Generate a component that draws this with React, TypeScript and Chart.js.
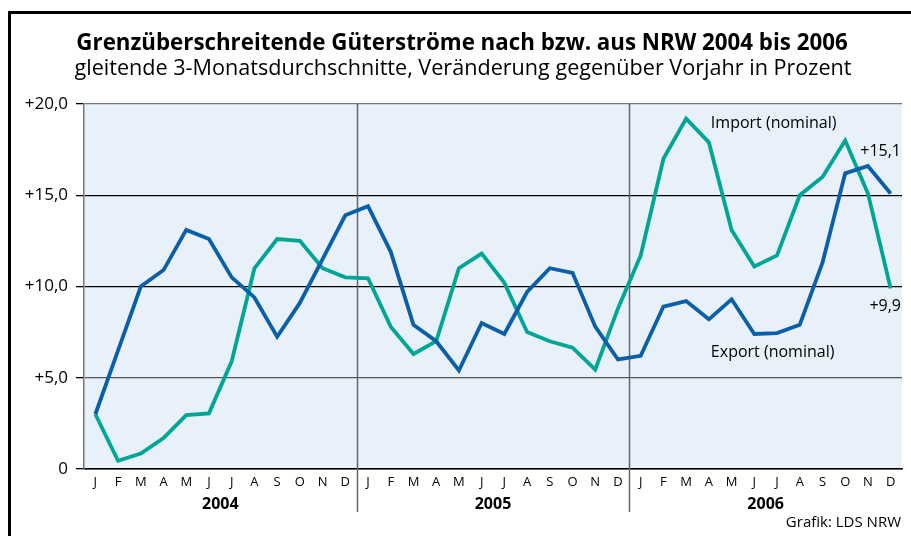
import React, { useEffect, useRef } from "react";
import { Chart, registerables } from "chart.js";

Chart.register(...registerables);

const monthLabels = ["J", "F", "M", "A", "M", "J", "J", "A", "S", "O", "N", "D"];
const years = ["2004", "2005", "2006"];
const categories = years.flatMap(() => monthLabels);

const exportValues = [
  3.0, 6.5, 10.0, 10.9, 13.1, 12.6, 10.5, 9.4, 7.25, 9.1, 11.5, 13.9,
  14.4, 11.9, 7.9, 7.0, 5.4, 8.0, 7.4, 9.7, 11.0, 10.75, 7.8, 6.0,
  6.2, 8.9, 9.2, 8.2, 9.3, 7.4, 7.45, 7.9, 11.3, 16.2, 16.6, 15.1,
];
const importValues = [
  3.0, 0.45, 0.85, 1.7, 2.95, 3.05, 5.9, 11.0, 12.6, 12.5, 11.0, 10.5,
  10.45, 7.8, 6.3, 7.0, 11.0, 11.8, 10.2, 7.5, 7.0, 6.65, 5.45, 8.8,
  11.7, 17.0, 19.2, 17.9, 13.1, 11.1, 11.7, 15.0, 16.0, 18.0, 15.1, 9.9,
];
const yTickLabels = ["0", "+5,0", "+10,0", "+15,0", "+20,0"];

const TITLE = "Grenzüberschreitende Güterströme nach bzw. aus NRW 2004 bis 2006";
const SUBTITLE = "gleitende 3-Monatsdurchschnitte, Veränderung gegenüber Vorjahr in Prozent";
const SOURCE = "Grafik: LDS NRW";
const IMPORT_LABEL = "Import (nominal)";
const EXPORT_LABEL = "Export (nominal)";
const lastExportLabel = "+15,1";
const lastImportLabel = "+9,9";

const FONT = "'Open Sans', 'Noto Sans', sans-serif";
const BLUE = "#0a5fa8";
const TEAL = "#00a695";

const decorPlugin = {
  id: "decor",
  beforeDraw(chart: any) {
    const { ctx, chartArea: a, width, height } = chart;
    ctx.save();
    ctx.fillStyle = "#ffffff";
    ctx.fillRect(0, 0, width, height);
    ctx.fillStyle = "#e8f0fa";
    ctx.fillRect(a.left, a.top, a.right - a.left, a.bottom - a.top);
    ctx.restore();
  },
  beforeDatasetsDraw(chart: any) {
    const { ctx, chartArea: a, scales } = chart;
    const x = scales.x;
    ctx.save();
    ctx.strokeStyle = "#666666";
    ctx.lineWidth = 1.5;
    for (let i = 1; i < years.length; i++) {
      const px = (x.getPixelForValue(i * 12 - 1) + x.getPixelForValue(i * 12)) / 2;
      ctx.beginPath();
      ctx.moveTo(Math.round(px) + 0.5, a.top);
      ctx.lineTo(Math.round(px) + 0.5, a.bottom + 43);
      ctx.stroke();
    }
    ctx.restore();
  },
  afterDraw(chart: any) {
    const { ctx, chartArea: a, scales, width } = chart;
    const x = scales.x;
    const y = scales.y;
    ctx.save();
    // frame
    ctx.strokeStyle = "#000";
    ctx.lineWidth = 3;
    ctx.beginPath();
    ctx.moveTo(9.5, 600);
    ctx.lineTo(9.5, 12.5);
    ctx.lineTo(width + 10, 12.5);
    ctx.stroke();

    ctx.fillStyle = "#000";
    ctx.textAlign = "center";
    ctx.textBaseline = "middle";
    ctx.font = `bold 22.3px ${FONT}`;
    ctx.fillText(TITLE, 462, 44);
    ctx.font = `21.6px ${FONT}`;
    ctx.fillText(SUBTITLE, 463, 69);

    // years
    ctx.font = `bold 16px ${FONT}`;
    years.forEach((yr, i) => {
      const px = (x.getPixelForValue(i * 12) + x.getPixelForValue(i * 12 + 11)) / 2;
      ctx.fillText(yr, px, a.bottom + 35);
    });

    // annotations
    ctx.font = `16px ${FONT}`;
    ctx.textAlign = "left";
    ctx.fillText(IMPORT_LABEL, x.getPixelForValue(27) + 2, y.getPixelForValue(18.95));
    ctx.fillText(EXPORT_LABEL, x.getPixelForValue(27) + 2, y.getPixelForValue(6.4));
    ctx.textAlign = "right";
    ctx.fillText(lastExportLabel, a.right - 1, y.getPixelForValue(17.4));
    ctx.fillText(lastImportLabel, a.right - 1, y.getPixelForValue(8.9));
    ctx.font = `15px ${FONT}`;
    ctx.fillText(SOURCE, a.right - 1, a.bottom + 54);
    ctx.restore();
  },
};

export default function App() {
  const ref = useRef<HTMLCanvasElement | null>(null);
  useEffect(() => {
    if (!ref.current) return;
    const chart = new Chart(ref.current, {
      type: "line",
      data: {
        labels: categories,
        datasets: [
          {
            label: "Export (nominal)",
            data: exportValues,
            borderColor: BLUE,
            borderWidth: 3.8,
            pointRadius: 0,
            tension: 0,
            borderJoinStyle: "miter",
          },
          {
            label: "Import (nominal)",
            data: importValues,
            borderColor: TEAL,
            borderWidth: 3.8,
            pointRadius: 0,
            tension: 0,
            borderJoinStyle: "miter",
          },
        ],
      },
      options: {
        responsive: false,
        animation: false,
        layout: { padding: { left: 0, top: 104, right: 9, bottom: 0 } },
        plugins: {
          legend: { display: false },
          title: { display: false },
          tooltip: { enabled: false },
        },
        scales: {
          x: {
            type: "category",
            offset: true,
            grid: { display: false, drawTicks: false },
            border: { display: true, color: "#000", width: 1.5 },
            ticks: {
              color: "#000",
              font: { family: FONT, size: 13 },
              padding: 5,
              maxRotation: 0,
              autoSkip: false,
            },
            afterFit: (s: any) => {
              s.height = 67;
            },
          },
          y: {
            min: 0,
            max: 20,
            grid: {
              color: (c: any) => {
                const v = c.tick ? c.tick.value : 0;
                if (v === 20) return "#777777";
                if (v === 5) return "#555555";
                return "#000000";
              },
              lineWidth: 1.3,
              tickLength: 8,
              tickColor: "#000",
            },
            border: { display: true, color: "#777777", width: 1.5 },
            ticks: {
              stepSize: 5,
              color: "#000",
              font: { family: FONT, size: 17 },
              padding: 8,
              callback: (v: any) => yTickLabels[Math.round(Number(v) / 5)],
            },
            afterFit: (s: any) => {
              s.width = 84;
            },
          },
        },
      },
      plugins: [decorPlugin],
    });
    return () => chart.destroy();
  }, []);
  return (
    <div style={{ position: "fixed", left: 0, top: 0, width: 911, height: 536, background: "#fff" }}>
      <canvas ref={ref} width={911} height={536} style={{ width: 911, height: 536, display: "block" }} />
    </div>
  );
}
